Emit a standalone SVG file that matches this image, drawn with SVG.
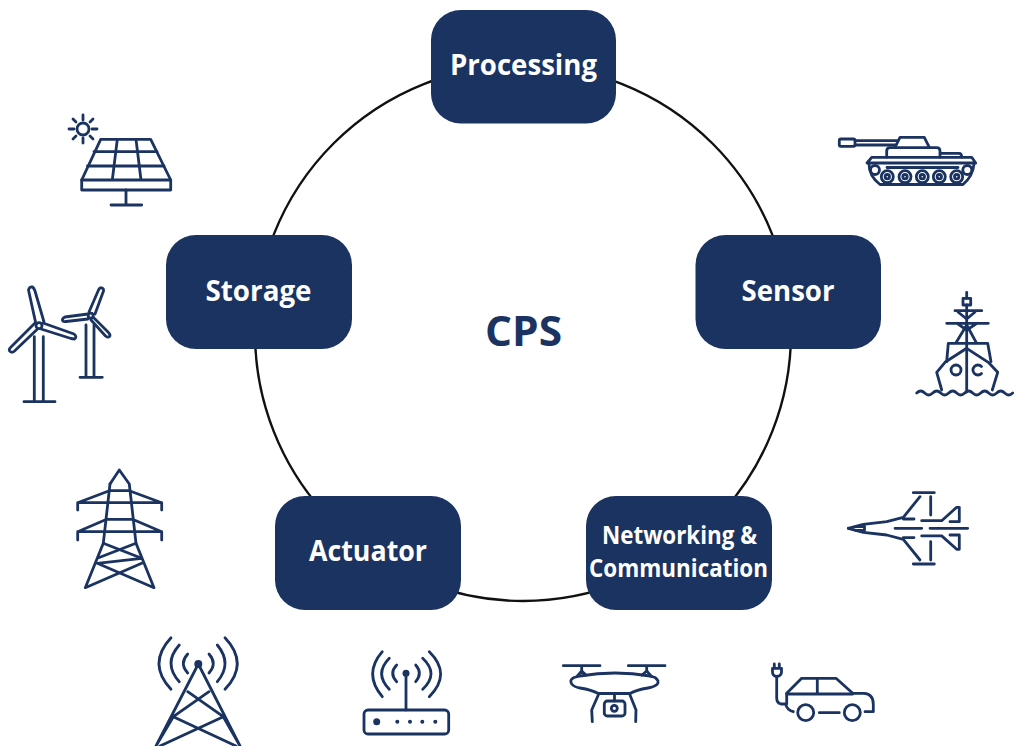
<svg xmlns="http://www.w3.org/2000/svg" width="1015" height="746" viewBox="0 0 1015 746">
<style>
.box{fill:#1b3360}
.lbl{font-family:"Open Sans","Liberation Sans",sans-serif;font-weight:700;fill:#fff;text-anchor:middle}
.ic{fill:none;stroke:#1b3360;stroke-width:2.8;stroke-linecap:round;stroke-linejoin:round}
.dot{fill:#1b3360;stroke:none}
</style>
<rect width="1015" height="746" fill="#fff"/>
<g id="connectors"><circle cx="523" cy="333" r="268" fill="none" stroke="#111" stroke-width="2.4"/></g>
<g id="node-processing"><rect class="box" x="431" y="10" width="185" height="113.500" rx="30"/><text class="lbl" x="523.500" y="75" font-size="28" textLength="147" lengthAdjust="spacingAndGlyphs">Processing</text></g>
<g id="node-sensor"><rect class="box" x="695.500" y="235" width="185.500" height="114" rx="30"/><text class="lbl" x="788" y="301" font-size="28" textLength="93" lengthAdjust="spacingAndGlyphs">Sensor</text></g>
<g id="node-storage"><rect class="box" x="166" y="235" width="186" height="114" rx="30"/><text class="lbl" x="258.500" y="301" font-size="28" textLength="106" lengthAdjust="spacingAndGlyphs">Storage</text></g>
<g id="node-actuator"><rect class="box" x="275" y="496" width="186" height="114" rx="30"/><text class="lbl" x="368" y="561" font-size="28" textLength="118" lengthAdjust="spacingAndGlyphs">Actuator</text></g>
<g id="node-networking"><rect class="box" x="586" y="496" width="186" height="114" rx="30"/><text class="lbl" x="679.500" y="544" font-size="25" textLength="155" lengthAdjust="spacingAndGlyphs">Networking &amp;</text><text class="lbl" x="678.500" y="577" font-size="25" textLength="179" lengthAdjust="spacingAndGlyphs">Communication</text></g>
<text id="title" x="523.500" y="346" font-family="'Open Sans','Liberation Sans',sans-serif" font-weight="700" font-size="41" fill="#1b3360" text-anchor="middle" textLength="77" lengthAdjust="spacingAndGlyphs">CPS</text>

<g id="icon-solar" class="ic">
<circle cx="83" cy="129" r="6"/>
<path d="M83 115v5M83 138v5M69 129h5M92 129h5M73 119l3 3M90 136l3 3M73 139l3-3M90 122l3-3"/>
<path d="M100.700 139.300H150.700L170.700 180V190H81.700V180Z"/>
<path d="M81.700 180H170.700M94 151.700H157M87.500 166H164M117.300 139.300L112.300 180M136 139.300L141 180M126 190V205M111 205H141.700"/>
</g>
<g id="icon-wind" class="ic">
<circle cx="39" cy="325.700" r="3"/>
<path d="M35.500 322L28.500 290Q29 286.500 32.500 287Q34 288 35 291L44 322"/>
<path d="M43 323L74 334Q77.500 337 74.500 339L71 338.500L41 329"/>
<path d="M35 323L11 347Q8 350 10 351.500Q12 353 14 351.500L37 329.500"/>
<path d="M34.300 336.700V401.700M43.300 336.700V401.700M24 401.700H55"/>
<circle cx="90.700" cy="315.700" r="2.500"/>
<path d="M89 312L98.500 290Q100 287 102 288Q104 289 103.500 291L95 314"/>
<path d="M88 314L65 317Q62 318.500 62.500 320.500Q63 322 66 321.500L88 319"/>
<path d="M94 318L108 332Q111 335 109.500 336.500Q108 338 105.500 336L91 320"/>
<path d="M86 325V377.300M94 325V377.300M80 377.300H102.300"/>
</g>
<g id="icon-pylon" class="ic">
<path d="M110 484L119.300 470L129.300 484L136 543.300L154 587.700L97.300 563.300L141.700 558.300L103.300 543.300"/>
<path d="M110 484L103.300 543.300L85.300 587.700L141.700 563.300M136 543.300L97.300 558.300"/>
<path d="M109.300 490.700H129.300M109.300 490.700L77.700 502.700V510M129.300 490.700L161.700 502.700V510M77.700 502.700H161.700"/>
<path d="M106.700 519.300H132.500M106.700 519.300L77.700 531.700V540M132.500 519.300L161.700 531.700V540M77.700 531.700H161.700"/>
</g>
<g id="icon-tower" class="ic">
<circle class="dot" cx="198.300" cy="664" r="4"/>
<path d="M198.300 664L156 746M198.300 664L240 746M187.700 691.700L223.300 716.700L240 746M209 691.700L173.300 716.700L156 746M173.300 716.700L236 746M223.300 716.700L160 746"/>
<path d="M209 654Q217.500 663.500 209 673M217.300 645Q232.700 663.500 217.300 681.700M225 637.700Q249.500 663.500 225 689.300M187.700 654Q179 663.500 187.700 673M179.300 645Q162.700 663.500 179.300 681.700M171 637.700Q147 663.500 171 689.300"/>
</g>
<g id="icon-router" class="ic">
<rect x="364" y="710" width="84.700" height="24" rx="4"/>
<path d="M406 673.300V710"/>
<circle class="dot" cx="406" cy="673.300" r="3.500"/>
<circle class="dot" cx="376.700" cy="721.700" r="3.500"/>
<circle class="dot" cx="397.300" cy="721.700" r="2"/><circle class="dot" cx="410" cy="721.700" r="2"/><circle class="dot" cx="422.300" cy="721.700" r="2"/><circle class="dot" cx="435.300" cy="721.700" r="2"/>
<path d="M415.700 665Q423 673.300 415.700 681.700M422.700 658.300Q439.300 673.800 422.700 689.300M429.300 651.700Q452 674 429.300 696.700M396.700 665Q388.700 673.300 396.700 681.700M389.300 658.300Q374 673.800 389.300 689.300M382.300 651.700Q363 674 382.300 696.700"/>
</g>
<g id="icon-drone" class="ic">
<path d="M563.300 665.700H600M628.300 665.700H665M581.700 665.700V671M646.700 665.700V671"/>
<path d="M577 676.500L581.700 671L586 675M642 675L646.700 671L651.500 676.500"/>
<path d="M580 676Q615 670 650 676L655 677.500Q660 681 657 684.500Q654 687 648 688Q636 690 630 693.500H598.300Q592 690 580 688Q574 687 571.700 684Q569 680 574 677.500Z"/>
<path d="M598.300 695L591.700 710L592.300 721.700M630 695L636 710L635.700 721.700M614.500 694V701"/>
<rect x="604.300" y="701" width="20.700" height="15" rx="3"/>
<circle cx="614.300" cy="708.300" r="3"/>
</g>
<g id="icon-car" class="ic">
<path d="M774.300 664V668.300M779.300 664V668.300M772.500 668.300H781.500V672Q781.500 676 776.700 676.500Q772.500 676 772.500 672Z"/>
<path d="M776.700 677V698Q776.700 703 781 704H785.500Q787 710 793.300 711.700"/>
<path d="M786.700 704V693.300L801.700 678.300H836L852.700 693.300H864Q873.300 694 873.300 704V711.700H865"/>
<path d="M786.700 694H852.700M817.300 678.300V694M819.300 712.700H839.300"/>
<circle cx="805.700" cy="712.700" r="8"/>
<circle cx="852.300" cy="712.700" r="8"/>
</g>
<g id="icon-tank" class="ic">
<rect x="839.300" y="139" width="15.700" height="7.300" rx="1.500"/>
<path d="M855 140.700H898M855 145H895M895 147.300L900 137.300H924.300L929.300 147.300"/>
<path d="M886.700 157.300V151Q886.700 147.700 890 147.700H936.700Q940 147.700 940 151V157.300M940 153.300H959Q961.700 153.300 961.700 157.300"/>
<path d="M867 163L871.700 157.300H971.700L975.700 163H867ZM887 167.500H958"/>
<path d="M869 164Q869 176 880 184.500H963Q973 176 974 164"/>
<circle cx="887.300" cy="176.700" r="6"/><circle cx="887.300" cy="176.700" r="2.200"/>
<circle cx="905" cy="176.700" r="6"/><circle cx="905" cy="176.700" r="2.200"/>
<circle cx="922.300" cy="176.700" r="6"/><circle cx="922.300" cy="176.700" r="2.200"/>
<circle cx="939.300" cy="176.700" r="6"/><circle cx="939.300" cy="176.700" r="2.200"/>
<circle cx="956.700" cy="176.700" r="6"/><circle cx="956.700" cy="176.700" r="2.200"/>
<circle cx="875" cy="170" r="4.500"/><circle cx="967.300" cy="170" r="4.500"/>
</g>
<g id="icon-ship" class="ic">
<path d="M966.700 292.300V298.300M966.700 305V392"/>
<rect x="963" y="298.300" width="7.700" height="6.700"/>
<path d="M955 310.700H981.700M946.700 323.300H988.300M958 312L966.700 319L975 312M957 323.300L966.700 330L977 323.300"/>
<path d="M966.700 325L955.700 343.300M966.700 325L976.700 343.300M948.300 343.300H987.700M948.300 343.300L946.700 361.700M987.700 343.300L991 361.700"/>
<path d="M941.700 390L936.700 372.300L945 362.300L966.700 348.300L988.300 362.300L997.700 372.300L992.300 390"/>
<circle cx="956" cy="370" r="5"/>
<path d="M981.500 366.500A5 5 0 1 0 981.500 373.500"/>
<path d="M916.700 393Q920.700 389 924.700 393T932.700 393T940.700 393T948.700 393T956.700 393T964.700 393T972.700 393T980.700 393T988.700 393T996.700 393T1004.700 393T1012.700 393"/>
</g>
<g id="icon-jet" class="ic">
<path d="M848.300 528.300L863.300 524.300L886.700 521.700L903.300 517.300L920 496.700M913.300 492.700H934.300M930.700 496.700V515M903.300 519H914M921.700 520.700H941.700L956.700 507.300H959.300V521.700H950"/>
<path d="M848.300 528.300L863.300 532.300L886.700 535L903.300 539.300L920 560M913.300 564H934.300M930.700 560V541.600M903.300 537.600H914M921.700 535.900H941.700L956.700 549.300H959.300V535H950"/>
<path d="M895 528.300H921.700M930 528.300H967.700M856 526.500H864.500V530.500H856"/>
</g>
</svg>
